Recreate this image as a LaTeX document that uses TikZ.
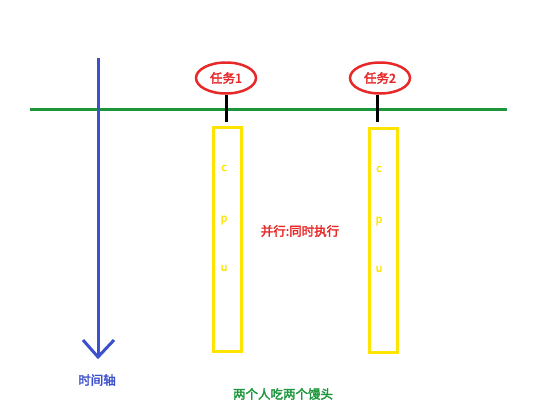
\documentclass[tikz,border=0pt]{standalone}
\usepackage{fontspec}
\newfontfamily\cjk{Noto Sans CJK SC}[AutoFakeBold=2.5]
\usetikzlibrary{shapes.geometric}
\definecolor{lred}{RGB}{232,40,40}
\definecolor{lyel}{RGB}{255,228,0}
\definecolor{lgrn}{RGB}{30,150,60}
\definecolor{lblu}{RGB}{60,80,205}
\tikzset{
  task/.style={ellipse,draw=lred,line width=2.5pt,minimum width=60pt,minimum height=31pt,inner sep=0pt,text=lred,font=\cjk\bfseries\fontsize{12.5}{14}\selectfont},
  cpubox/.style={draw=lyel,line width=3pt,minimum width=28pt,minimum height=224pt,inner sep=0pt},
  cpul/.style={text=lyel,font=\cjk\bfseries\fontsize{11}{13}\selectfont},
  lbl/.style={font=\cjk\bfseries\fontsize{12.5}{14}\selectfont},
}
\begin{document}
\begin{tikzpicture}[x=1pt,y=-1pt]
\useasboundingbox (0,0) rectangle (533,418);
\fill[white] (0,0) rectangle (533,418);
% timeline
\coordinate (gl) at (30,109);
\coordinate (gr) at (507,109);
\draw[lgrn,line width=3pt] (gl) -- (gr);
% time axis
\coordinate (at) at (98,58);
\coordinate (ab) at (98,357);
\coordinate (al) at (83,340);
\coordinate (ar) at (114,340);
\draw[lblu,line width=3pt] (at) -- (ab);
\draw[lblu,line width=3pt,line join=miter] (al) -- (ab) -- (ar);
\node[lbl,text=lblu] (tz) at (97,380) {时间轴};
% task 1
\node[task] (t1) at (226,78) {任务1};
\node[cpubox] (c1) at (227,239) {};
\draw[black,line width=3pt] (t1.south) -- (226,122);
\node[cpul] (c1a) at (224,168) {c};
\node[cpul] (c1b) at (224,220) {p};
\node[cpul] (c1c) at (224,268) {u};
% task 2
\node[task] (t2) at (380,78) {任务2};
\node[cpubox] (c2) at (383,240) {};
\draw[black,line width=3pt] (t2.south -| 377,0) -- (377,122);
\node[cpul] (c2a) at (379,169) {c};
\node[cpul] (c2b) at (379,221) {p};
\node[cpul] (c2c) at (379,269) {u};
% labels
\node[lbl,text=lred] (par) at (300,231) {并行:同时执行};
\node[lbl,text=lgrn] (eat) at (283,394) {两个人吃两个馒头};
\end{tikzpicture}
\end{document}
